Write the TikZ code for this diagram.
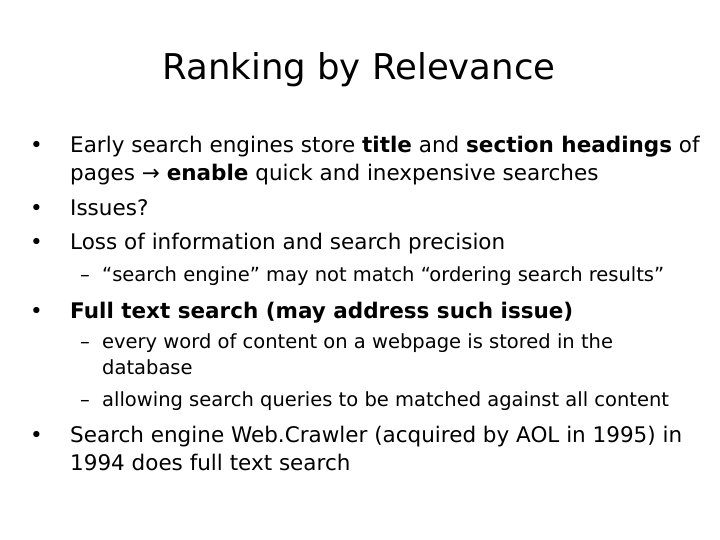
\documentclass[tikz,border=0pt]{standalone}
\usepackage{fontspec}
\setmainfont{DejaVu Sans}
\begin{document}
\begin{tikzpicture}[x=1pt,y=-1pt,
  txt/.style={anchor=base west, inner sep=0pt, font=\fontsize{21.5}{24}\selectfont},
  sub/.style={anchor=base west, inner sep=0pt, font=\fontsize{19.5}{22}\selectfont}]
\useasboundingbox (0,0) rectangle (720,540);
\node[anchor=base, inner sep=0pt, font=\fontsize{35.5}{40}\selectfont] (title) at (359,80) {Ranking by Relevance};
% first bullet
\node[txt] (b1) at (30,153) {•};
\node[txt] (t1) at (70,153) {Early search engines store \textbf{title} and \textbf{section headings} of};
\node[txt] (t1b) at (70,181) {pages → \textbf{enable} quick and inexpensive searches};
\node[txt] (b2) at (30,215) {•};
\node[txt] (t2) at (70,215) {Issues?};
\node[txt] (b3) at (30,249) {•};
\node[txt] (t3) at (70,249) {Loss of information and search precision};
\node[sub] (d1) at (80,281) {–};
\node[sub] (s1) at (102,281) {“search engine” may not match “ordering search results”};
% full text
\node[txt] (b4) at (30,318) {•};
\node[txt] (t4) at (70,318) {\textbf{Full text search (may address such issue)}};
\node[sub] (d2) at (80,348) {–};
\node[sub] (s2) at (102,348) {every word of content on a webpage is stored in the};
\node[sub] (s2b) at (102,374) {database};
\node[sub] (d3) at (80,406) {–};
\node[sub] (s3) at (102,406) {allowing search queries to be matched against all content};
\node[txt] (b5) at (30,442) {•};
\node[txt] (t5) at (70,442) {Search engine Web.Crawler (acquired by AOL in 1995) in};
\node[txt] (t5b) at (70,470) {1994 does full text search};
\end{tikzpicture}
\end{document}
